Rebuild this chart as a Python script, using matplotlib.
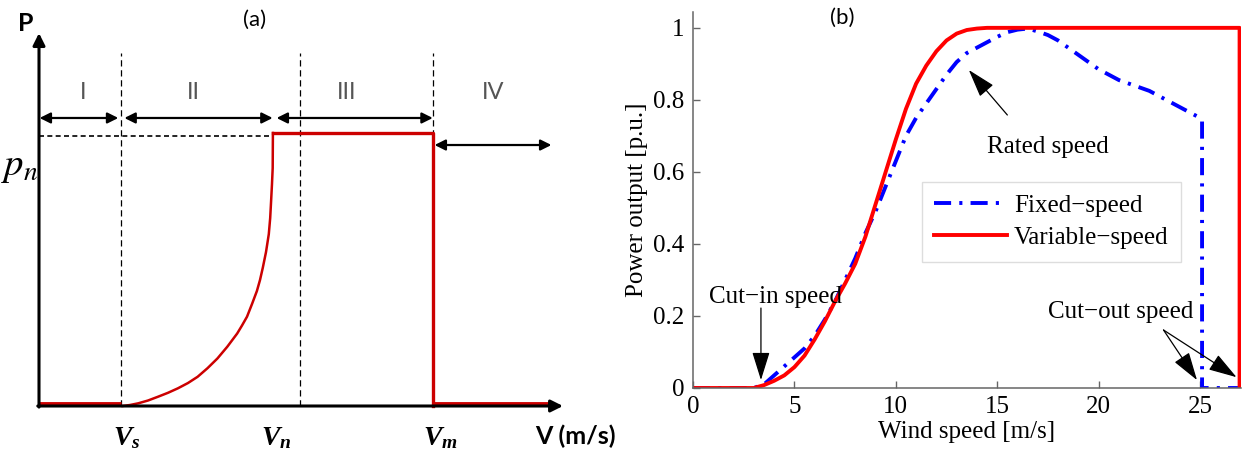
import matplotlib
matplotlib.use('Agg')
import matplotlib.pyplot as plt

# ---- panel (a): schematic power curve ----
v_s, v_n, v_mid, v_m = 2.7, 7.67, 8.56, 12.92
v_end = 17.18
p_top = 1.366
# rising part between Vs and Vn
curve_v = [2.738, 2.984, 3.256, 3.574, 3.905, 4.230, 4.554, 4.885, 5.200, 5.525, 5.849,
           6.174, 6.498, 6.656, 6.820, 6.984, 7.144, 7.246, 7.338, 7.443, 7.534, 7.580,
           7.610, 7.639, 7.662, 7.669]
curve_p = [0.0, 0.0037, 0.0099, 0.0201, 0.0341, 0.0484, 0.0648, 0.0842, 0.1070, 0.1385,
           0.1740, 0.2172, 0.2656, 0.2949, 0.3271, 0.3736, 0.4212, 0.4615, 0.5066,
           0.5641, 0.6293, 0.6886, 0.7509, 0.8132, 0.8718, 1.0]
region_names = ['I', 'II', 'III', 'IV']
region_x = [1.44, 5.07, 10.1, 14.9]

# ---- panel (b): measured curves ----
wind_var = [0, 2.5, 3.0, 3.5, 4.0, 4.5, 5.0, 5.5, 6.0, 6.5, 7.0, 7.5, 8.0, 8.5, 9.0,
            9.5, 10.0, 10.5, 11.0, 11.5, 12.0, 12.5, 13.0, 13.5, 14.0, 14.5, 26.95, 26.95]
p_var = [0, 0, 0.0, 0.008, 0.02, 0.035, 0.058, 0.09, 0.135, 0.185, 0.24, 0.29, 0.345,
         0.42, 0.51, 0.60, 0.69, 0.775, 0.845, 0.895, 0.935, 0.965, 0.984, 0.994, 0.998,
         1.0, 1.0, 0.0]
wind_fix = [0, 3.0, 3.5, 4.0, 4.5, 5.0, 5.5, 6.0, 6.5, 7.0, 7.5, 8.0, 8.5, 9.0, 9.5,
            10.0, 10.5, 11.0, 11.5, 12.0, 12.5, 13.0, 13.5, 14.0, 14.5, 15.0, 15.5, 16.0,
            16.5, 17.0, 17.5, 18.0, 18.5, 19.0, 19.5, 20.0, 20.5, 21.0, 21.5, 22.0, 22.5,
            23.0, 23.5, 24.0, 24.5, 25.0, 25.1, 25.1, 27.0]
p_fix = [0, 0, 0.01, 0.035, 0.06, 0.085, 0.11, 0.145, 0.19, 0.24, 0.30, 0.36, 0.43,
         0.49, 0.56, 0.63, 0.70, 0.75, 0.79, 0.83, 0.87, 0.905, 0.93, 0.945, 0.96, 0.975,
         0.988, 0.995, 0.998, 0.99, 0.98, 0.965, 0.945, 0.925, 0.905, 0.885, 0.87, 0.855,
         0.845, 0.835, 0.825, 0.81, 0.795, 0.78, 0.765, 0.75, 0.74, 0.0, 0.0]
xticks = [0, 5, 10, 15, 20, 25]
yticks = [0, 0.2, 0.4, 0.6, 0.8, 1.0]
ytick_labels = ['0', '0.2', '0.4', '0.6', '0.8', '1']

W, H = 1242, 457
fig = plt.figure(figsize=(W / 100, H / 100), dpi=100)

# panel (a) axes covers the left 620 px; data units chosen so origin is at (39, 406) px
ax = fig.add_axes([0, 0, 620 / W, 1])
ax.set_xlim(-39 / 30.5, (620 - 39) / 30.5)
ax.set_ylim((406 - 457) / 273, 406 / 273)
ax.axis('off')

sans = ['Lato', 'DejaVu Sans']
ax.annotate('', xy=(0, p_top), xytext=(0, -0.004),
            arrowprops=dict(arrowstyle='-|>', color='black', lw=2.2, mutation_scale=18,
                            shrinkA=0, shrinkB=0))
ax.annotate('', xy=(v_end, 0), xytext=(-0.04, 0),
            arrowprops=dict(arrowstyle='-|>', color='black', lw=2.2, mutation_scale=18,
                            shrinkA=0, shrinkB=0))
for v in [v_s, v_mid, v_m]:
    ax.plot([v, v], [0, 1.293], color='black', lw=0.9, ls=(0, (5, 3)))
ax.plot([0, v_n], [0.99, 0.99], color='black', lw=1.2, ls=(0, (3, 2)))

red = '#cc0000'
ax.plot([0, v_s], [0.006, 0.006], color=red, lw=3.5, solid_capstyle='butt')
ax.plot(curve_v, curve_p, color=red, lw=1.8, solid_joinstyle='round')
ax.plot([v_n, v_m, v_m], [1.0, 1.0, 0.0], color=red, lw=2.4)
ax.plot([v_m, 16.9], [0.006, 0.006], color=red, lw=3.5, solid_capstyle='butt')

arrow_kw = dict(arrowstyle='<|-|>', color='black', lw=1.6, mutation_scale=16,
                shrinkA=0, shrinkB=0)
for a, b in [(0.02, 2.60), (2.80, 7.66), (7.79, 12.91)]:
    ax.annotate('', xy=(b, 1.055), xytext=(a, 1.055), arrowprops=arrow_kw)
ax.annotate('', xy=(16.8, 0.956), xytext=(12.97, 0.956), arrowprops=arrow_kw)

for name, x in zip(region_names, region_x):
    ax.text(x, 1.15, name, ha='center', va='center', fontsize=17, color='#555555',
            family=sans)

ax.text(-0.44, 1.40, 'P', ha='center', va='center', fontsize=18, fontweight='bold',
        family=sans)
t = ax.text(-0.62, 0.88, r'$p_n$', ha='center', va='center', fontsize=28)
t.set_math_fontfamily('stix')
plt.rcParams['mathtext.fontset'] = 'custom'
plt.rcParams['mathtext.it'] = 'Liberation Serif:italic:bold'
plt.rcParams['mathtext.rm'] = 'Liberation Serif:bold'
for lab, x in [(r'$V_s$', 2.87), (r'$V_n$', 7.79), (r'$V_m$', 13.17)]:
    t = ax.text(x, -0.115, lab, ha='center', va='center', fontsize=20)
    t.set_math_fontfamily('custom')
ax.text(17.6, -0.11, 'V (m/s)', ha='center', va='center', fontsize=18,
        fontweight='bold', family=sans)
ax.text(7.08, 1.413, '(a)', ha='center', va='center', fontsize=16, family=sans)

# panel (b)
serif = 'Liberation Serif'
bx = fig.add_axes([693 / W, 1 - 388 / H, (1241 - 693) / W, (388 - 12) / H])
bx.plot(wind_fix, p_fix, color='#0000ff', lw=2.8, ls=(0, (4.4, 2.1, 0.8, 2.1)),
        label='Fixed\u2212speed')
bx.plot(wind_var, p_var, color='#ff0000', lw=2.8, label='Variable\u2212speed')
bx.set_xlim(0, 27.02)
bx.set_ylim(0, 1.044)
for s in ['top', 'right']:
    bx.spines[s].set_visible(False)
for s in ['left', 'bottom']:
    bx.spines[s].set_color('#666666')
    bx.spines[s].set_linewidth(1.1)
bx.set_xticks(xticks)
bx.set_yticks(yticks)
bx.set_yticklabels(ytick_labels)
bx.tick_params(direction='in', length=5, width=1, color='#666666', labelsize=18, pad=6)
for lab in bx.get_xticklabels() + bx.get_yticklabels():
    lab.set_family(serif)
bx.set_xlabel('Wind speed [m/s]', fontsize=18, family=serif, labelpad=2)
bx.set_ylabel('Power output [p.u.]', fontsize=18, family=serif, labelpad=4)

leg = bx.legend(loc='upper left', bbox_to_anchor=(0.417, 0.549), borderaxespad=0,
                prop={'family': serif, 'size': 18}, handlelength=2.9, handletextpad=0.3,
                borderpad=0.5, labelspacing=0.4, fancybox=False, framealpha=1)
leg.get_frame().set_edgecolor('#dddddd')
leg.get_frame().set_linewidth(1.0)

note_kw = dict(fontsize=18, family=serif, ha='center', va='center')
head = dict(arrowstyle='-|>,head_length=0.8,head_width=0.25', color='black', lw=0.9,
            mutation_scale=22, shrinkA=0, shrinkB=0)
bx.annotate('Rated speed', xy=(13.6, 0.883), xytext=(17.5, 0.67), **note_kw)
bx.annotate('', xy=(13.6, 0.883), xytext=(15.5, 0.758), arrowprops=head)
bx.annotate('Cut\u2212in speed', xy=(3.35, 0.022), xytext=(4.05, 0.253), **note_kw)
bx.annotate('', xy=(3.35, 0.022), xytext=(3.35, 0.222), arrowprops=head)
bx.annotate('Cut\u2212out speed', xy=(24.85, 0.022), xytext=(21.1, 0.21), **note_kw)
bx.annotate('', xy=(24.85, 0.022), xytext=(23.2, 0.161), arrowprops=head)
bx.annotate('', xy=(26.8, 0.03), xytext=(23.2, 0.161), arrowprops=head)
fig.text(842 / W, 1 - 18 / H, '(b)', ha='center', va='center', fontsize=16, family=sans)

fig.savefig('out.png', dpi=100)
